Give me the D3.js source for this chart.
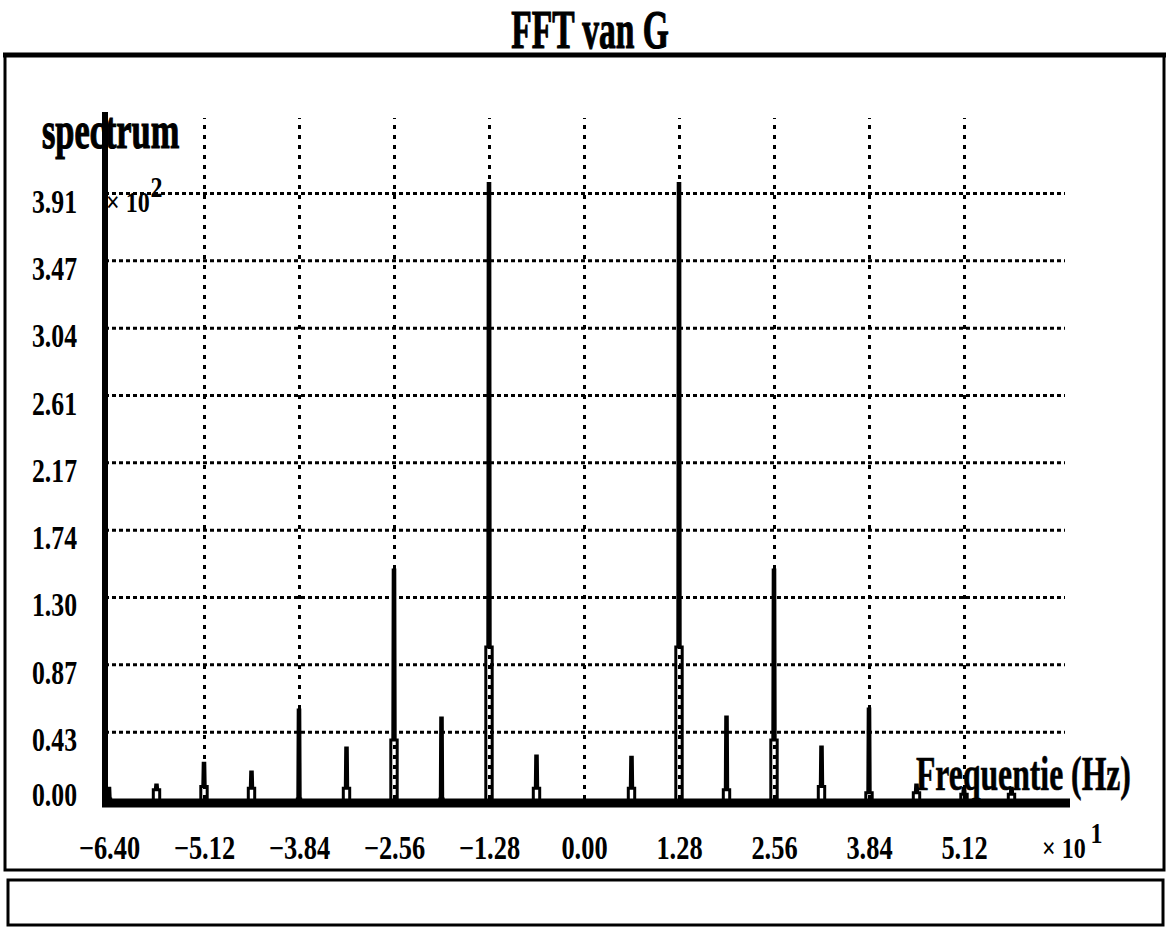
<!DOCTYPE html>
<html>
<head>
<meta charset="utf-8">
<script src="https://cdn.jsdelivr.net/npm/d3@7"></script>
<style>
    body { margin: 0; background: #fff; }
    svg { display: block; }
    text { font-family: "Liberation Serif", "DejaVu Serif", serif; font-weight: bold; fill: #000; }
</style>
</head>
<body>
<svg></svg>
<script>
// spectrum peaks: frequency (Hz), height, and height of the hollow foot
let peakFreqs    = [-64, -57.6, -51.2, -44.8, -38.4, -32, -25.6, -19.2, -12.8, -6.4, 6.4, 12.8, 19.2, 25.6, 32, 38.4, 44.8, 51.2, 57.6];
let peakValues   = [7, 9, 23, 17.4, 57.4, 32.9, 147.7, 52.2, 397, 27.7, 27, 397, 52.9, 147.7, 33.5, 58, 9, 7, 7];
let peakShoulder = [0, 6, 8, 7, 0, 7, 38, 0, 98, 7, 7, 98, 6, 38, 8, 4, 4, 3, 3];

let xTicks = [-64, -51.2, -38.4, -25.6, -12.8, 0, 12.8, 25.6, 38.4, 51.2];
let xTickLabels = ["\u22126.40", "\u22125.12", "\u22123.84", "\u22122.56", "\u22121.28", "0.00", "1.28", "2.56", "3.84", "5.12"];
let xGrid = [-51.2, -38.4, -25.6, -12.8, 0, 12.8, 25.6, 38.4, 51.2];

let yTicks = [0, 43.43, 86.85, 130.28, 173.7, 217.13, 260.55, 303.98, 347.4, 390.83];
let yTickLabels = ["0.00", "0.43", "0.87", "1.30", "1.74", "2.17", "2.61", "3.04", "3.47", "3.91"];

let width = 1169;
let height = 928;
let plotLeft = 109, plotRight = 1059;
let plotTop = 193, plotBottom = 799;

let svg = d3.select("svg")
    .attr("width", width)
    .attr("height", height);

let xScale = d3.scaleLinear()
    .domain([-64, 64])
    .range([plotLeft, plotRight]);

let yScale = d3.scaleLinear()
    .domain([0, 390.83])
    .range([plotBottom, plotTop]);

// frames
svg.append("rect")
    .attr("x", 5).attr("y", 55)
    .attr("width", 1159).attr("height", 815)
    .attr("fill", "none").attr("stroke", "#000").attr("stroke-width", 3);
svg.append("line")
    .attr("x1", 3).attr("x2", 1166).attr("y1", 55).attr("y2", 55)
    .attr("stroke", "#000").attr("stroke-width", 5);
svg.append("rect")
    .attr("x", 8).attr("y", 880)
    .attr("width", 1155).attr("height", 45)
    .attr("fill", "none").attr("stroke", "#000").attr("stroke-width", 3);

function label(x, y, txt, size, sx, anchor) {
    return svg.append("text")
        .attr("transform", `translate(${x},${y}) scale(${sx},1)`)
        .attr("text-anchor", anchor || "start")
        .style("font-size", size + "px")
        .text(txt);
}

label(590, 48, "FFT van G", 54, 0.62, "middle")
    .attr("stroke", "#000").attr("stroke-width", 1.2);

// grid
let vGrid = d3.axisBottom(xScale)
    .tickValues(xGrid)
    .tickSize(-(plotBottom - 118))
    .tickFormat("");
svg.append("g")
    .attr("transform", "translate(0," + plotBottom + ")")
    .call(vGrid)
    .call(g => g.select(".domain").remove())
    .selectAll("line")
    .attr("stroke", "#000")
    .attr("stroke-width", 3)
    .attr("stroke-dasharray", "4,6");

let hGrid = d3.axisLeft(yScale)
    .tickValues(yTicks.slice(1))
    .tickSize(-(1065 - 105))
    .tickFormat("");
svg.append("g")
    .attr("transform", "translate(105,0)")
    .call(hGrid)
    .call(g => g.select(".domain").remove())
    .selectAll("line")
    .attr("stroke", "#000")
    .attr("stroke-width", 3)
    .attr("stroke-dasharray", "4,3");

// peaks
let line = d3.line();
svg.append("g")
    .selectAll("path")
    .data(peakFreqs.map((f, i) => ({ f: f, v: peakValues[i], s: peakShoulder[i] })))
    .enter()
    .append("path")
    .attr("d", d => {
        let x = xScale(d.f), y0 = yScale(0), ys = yScale(d.s), yt = yScale(d.v);
        return line([[x - 3.2, y0], [x - 3.2, ys], [x - 1.2, ys], [x - 0.8, yt],
                     [x + 0.8, yt], [x + 1.2, ys], [x + 3.2, ys], [x + 3.2, y0]]);
    })
    .attr("fill", "none")
    .attr("stroke", "#000")
    .attr("stroke-width", 3);

// axes lines
svg.append("line")
    .attr("x1", 105).attr("x2", 105).attr("y1", 112).attr("y2", 807)
    .attr("stroke", "#000").attr("stroke-width", 6);
svg.append("line")
    .attr("x1", 102).attr("x2", 1070).attr("y1", 803).attr("y2", 803)
    .attr("stroke", "#000").attr("stroke-width", 9);

// tick labels
let xAxis = d3.axisBottom(xScale)
    .tickValues(xTicks)
    .tickSize(0)
    .tickFormat((d, i) => xTickLabels[i]);
svg.append("g")
    .attr("transform", "translate(0,859)")
    .call(xAxis)
    .call(g => g.select(".domain").remove())
    .selectAll("text")
    .attr("y", 0).attr("dy", 0)
    .attr("transform", "scale(0.8,1)")
    .style("font-size", "33px")
    .style("font-family", "'Liberation Serif', serif")
    .style("font-weight", "bold")
    .attr("fill", "#000");

let yAxis = d3.axisLeft(yScale)
    .tickValues(yTicks)
    .tickSize(0)
    .tickFormat((d, i) => yTickLabels[i]);
svg.append("g")
    .attr("transform", "translate(105,0)")
    .call(yAxis)
    .call(g => g.select(".domain").remove())
    .selectAll("text")
    .attr("x", 0).attr("dy", 0).attr("y", 0)
    .attr("text-anchor", "start")
    .attr("transform", d => `translate(-73,${Math.min(19, 805 - yScale(d))}) scale(0.78,1)`)
    .style("font-size", "33px")
    .style("font-family", "'Liberation Serif', serif")
    .style("font-weight", "bold")
    .attr("fill", "#000");

// axis titles and multipliers
label(42, 148, "spectrum", 52, 0.66).attr("stroke", "#000").attr("stroke-width", 1.2);
label(916, 790, "Frequentie (Hz)", 48, 0.66).attr("stroke", "#000").attr("stroke-width", 0.6);

let m2 = label(106, 212, "\u00d7 10", 30, 0.8);
m2.append("tspan").attr("dx", 1).attr("dy", -15).text("2");
let m1 = label(1042, 858, "\u00d7 10", 30, 0.8);
m1.append("tspan").attr("dx", 6).attr("dy", -15).text("1");
</script>
</body>
</html>
